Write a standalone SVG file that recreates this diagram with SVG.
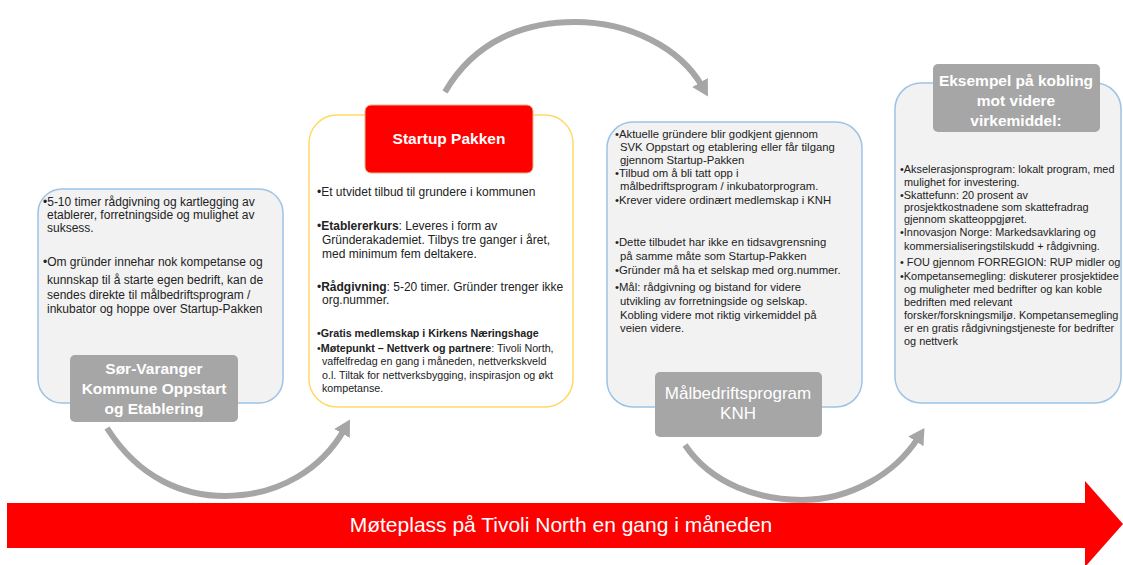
<svg xmlns="http://www.w3.org/2000/svg" width="1123" height="565" viewBox="0 0 1123 565">
<style>
text{font-family:"Liberation Sans",Arial,sans-serif;}
.body{fill:#222;font-size:12px;}
.b{font-weight:bold;}
.s3{font-size:11.3px;}
.s4{font-size:10.9px;}
.sm{font-size:10.7px;}
.lab{fill:#fff;font-weight:bold;font-size:15.5px;text-anchor:middle;}
.box{fill:#f2f2f2;stroke:#9dc3e6;stroke-width:1.5;}
.arc{fill:none;stroke:#a6a6a6;stroke-width:6;}
.glab{fill:#a6a6a6;}
</style>
<defs>
<marker id="ah" markerUnits="userSpaceOnUse" markerWidth="20" markerHeight="20" refX="4" refY="9" orient="auto">
<path d="M0,0 L16,9 L0,18 Z" fill="#a6a6a6"/>
</marker>
</defs>
<g id="connectors">
<path class="arc" d="M445,92 C475,40 525,22 575,22 C630,22 680,48 702,86" marker-end="url(#ah)"/>
<path class="arc" d="M107,428 C140,480 185,496 225,496 C280,496 322,468 344,430" marker-end="url(#ah)"/>
<path class="arc" d="M685,445 C712,485 760,500 802,500 C850,500 895,474 918,438" marker-end="url(#ah)"/>
</g>
<g id="node-soer-varanger">
<rect class="box" x="38" y="189" width="245" height="214" rx="24"/>
<text class="body" x="43" y="206">•5-10 timer rådgivning og kartlegging av</text>
<text class="body" x="47" y="219">etablerer, forretningside og mulighet av</text>
<text class="body" x="47" y="232">suksess.</text>
<text class="body" x="43" y="266">•Om gründer innehar nok kompetanse og</text>
<text class="body" x="47" y="284">kunnskap til å starte egen bedrift, kan de</text>
<text class="body" x="47" y="299">sendes direkte til målbedriftsprogram /</text>
<text class="body" x="47" y="313">inkubator og hoppe over Startup-Pakken</text>
<rect class="glab" x="70" y="355" width="168" height="67" rx="5"/>
<text class="lab" x="154" y="374">Sør-Varanger</text>
<text class="lab" x="154" y="394">Kommune Oppstart</text>
<text class="lab" x="154" y="414">og Etablering</text>
</g>
<g id="node-startup-pakken">
<rect x="309" y="115" width="264" height="292" rx="28" fill="#fff" stroke="#ffd966" stroke-width="1.5"/>
<rect x="365" y="105" width="168" height="68" rx="6" fill="#ff0000" stroke="#f4b183" stroke-width="1"/>
<text class="lab" x="449" y="144">Startup Pakken</text>
<text class="body" x="317" y="196">•Et utvidet tilbud til grundere i kommunen</text>
<text class="body" x="317" y="230">•<tspan class="b">Etablererkurs</tspan>: Leveres  i form av</text>
<text class="body" x="322" y="244">Gründerakademiet. Tilbys tre ganger i året,</text>
<text class="body" x="322" y="258">med minimum fem  deltakere.</text>
<text class="body" x="317" y="291">•<tspan class="b">Rådgivning</tspan>:  5-20 timer. Gründer trenger  ikke</text>
<text class="body" x="322" y="304">org.nummer.</text>
<text class="body b sm" x="317" y="337">•Gratis medlemskap i Kirkens Næringshage</text>
<text class="body sm" x="317" y="352">•<tspan class="b">Møtepunkt  – Nettverk og partnere</tspan>:  Tivoli North,</text>
<text class="body sm" x="322" y="365">vaffelfredag en gang i måneden, nettverkskveld</text>
<text class="body sm" x="322" y="379">o.l. Tiltak for nettverksbygging, inspirasjon og økt</text>
<text class="body sm" x="322" y="392">kompetanse.</text>
</g>
<g id="node-maalbedrift">
<rect class="box" x="607" y="122" width="255" height="285" rx="26"/>
<text class="body s3" x="615" y="138">•Aktuelle gründere blir godkjent gjennom</text>
<text class="body s3" x="620" y="151">SVK Oppstart og etablering eller får tilgang</text>
<text class="body s3" x="620" y="164">gjennom Startup-Pakken</text>
<text class="body s3" x="615" y="177">•Tilbud om å bli tatt opp i</text>
<text class="body s3" x="620" y="190">målbedriftsprogram / inkubatorprogram.</text>
<text class="body s3" x="615" y="204">•Krever videre ordinært medlemskap i KNH</text>
<text class="body s3" x="615" y="246">•Dette tilbudet har ikke en tidsavgrensning</text>
<text class="body s3" x="620" y="260">på samme måte som Startup-Pakken</text>
<text class="body s3" x="615" y="274">•Gründer må ha et selskap med org.nummer.</text>
<text class="body s3" x="615" y="291">•Mål: rådgivning og bistand for videre</text>
<text class="body s3" x="620" y="305">utvikling av forretningside og selskap.</text>
<text class="body s3" x="620" y="319">Kobling videre mot  riktig virkemiddel på</text>
<text class="body s3" x="620" y="332">veien videre.</text>
<rect class="glab" x="655" y="372" width="167" height="65" rx="5"/>
<text x="738" y="399" style="fill:#fff;font-size:17px;text-anchor:middle">Målbedriftsprogram</text>
<text x="738" y="419" style="fill:#fff;font-size:17px;text-anchor:middle">KNH</text>
</g>
<g id="node-eksempel">
<rect class="box" x="895" y="83" width="226" height="320" rx="26"/>
<rect class="glab" x="933" y="64" width="167" height="68" rx="5"/>
<text class="lab" x="1016" y="86">Eksempel på kobling</text>
<text class="lab" x="1016" y="106">mot videre</text>
<text class="lab" x="1016" y="126">virkemiddel:</text>
<text class="body s4" x="900" y="173">•Akselerasjonsprogram: lokalt program, med</text>
<text class="body s4" x="904" y="186">mulighet for investering.</text>
<text class="body s4" x="900" y="199">•Skattefunn: 20 prosent av</text>
<text class="body s4" x="904" y="211">prosjektkostnadene som skattefradrag</text>
<text class="body s4" x="904" y="223">gjennom skatteoppgjøret.</text>
<text class="body s4" x="900" y="236">•Innovasjon Norge: Markedsavklaring og</text>
<text class="body s4" x="904" y="250">kommersialiseringstilskudd + rådgivning.</text>
<text class="body s4" x="900" y="266">• FOU gjennom FORREGION: RUP midler og</text>
<text class="body s4" x="900" y="280">•Kompetansemegling: diskuterer prosjektidee</text>
<text class="body s4" x="904" y="293">og muligheter med bedrifter og kan koble</text>
<text class="body s4" x="904" y="306">bedriften med relevant</text>
<text class="body s4" x="904" y="319">forsker/forskningsmiljø. Kompetansemegling</text>
<text class="body s4" x="904" y="332">er en gratis rådgivningstjeneste for bedrifter</text>
<text class="body s4" x="904" y="345">og nettverk</text>
</g>
<g id="node-moteplass">
<polygon points="7,503 1085,503 1085,481 1123,524 1085,567 1085,548 7,548" fill="#ff0000"/>
<text x="561" y="532" style="fill:#fff;font-size:21px;text-anchor:middle">Møteplass på Tivoli North en gang i måneden</text>
</g>
</svg>
